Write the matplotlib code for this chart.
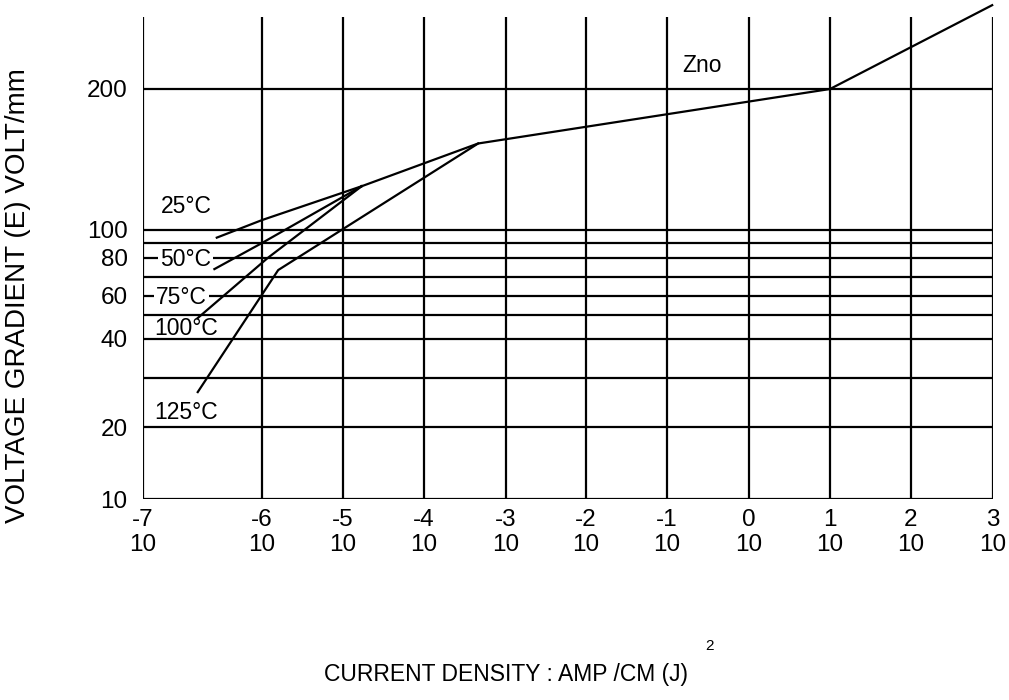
import numpy as np
import matplotlib.pyplot as plt

plt.rcParams['font.family'] = ['Liberation Sans', 'DejaVu Sans']

# grid
x_exponents = [-7, -6, -5, -4, -3, -2, -1, 0, 1, 2, 3]
y_gridvals = [10, 20, 30, 40, 50, 60, 70, 80, 90, 100, 200]
y_ticks = [10, 20, 40, 60, 80, 100, 200]
y_ticklabels = ["10", "20", "40", "60", "80", "100", "200"]

# curves: x = log10(J), y = E (V/mm)
zno_x = [-4.77, -3.34, 1.0, 2.99]
zno_y = [124, 153, 200, 302]
t25_x = [-6.38, -6.0, -4.77]
t25_y = [94, 105, 124]
t50_x = [-6.40, -6.0, -4.77]
t50_y = [74, 90, 124]
t100_x = [-6.54, -5.93, -4.77]
t100_y = [48.6, 80, 124]
t125_x = [-6.54, -5.80, -3.34]
t125_y = [26.7, 73.5, 153]

# the original grid is hand drawn with uneven spacing,
# so the scales go through these anchor positions (pixels)
x_anchor_pos = np.array([143, 262, 343, 424, 506, 586, 667, 749, 830, 911, 993], float)
y_anchor_vals = np.log10([10, 20, 30, 40, 50, 60, 70, 80, 90, 100, 200, 400])
y_anchor_pos = -np.array([499, 427, 378, 339, 315, 296, 277, 258, 243, 230, 89, -52], float)


def x_fwd(v):
    return np.interp(v, x_exponents, x_anchor_pos)


def x_inv(p):
    return np.interp(p, x_anchor_pos, x_exponents)


def y_fwd(v):
    v = np.clip(np.asarray(v, float), 1e-3, None)
    return np.interp(np.log10(v), y_anchor_vals, y_anchor_pos)


def y_inv(p):
    return 10 ** np.interp(p, y_anchor_pos, y_anchor_vals)


fig = plt.figure(figsize=(10.09, 7), dpi=100)
ax = fig.add_axes([143 / 1009, 201 / 700, 850 / 1009, 499 / 700])
ax.set_xscale('function', functions=(x_fwd, x_inv))
ax.set_yscale('function', functions=(y_fwd, y_inv))
ax.set_xlim(-7, 3)
ax.set_ylim(10, y_inv(0))

lw = 1.6
ax.vlines(x_exponents, 10, 285, color='black', lw=lw, zorder=1)
ax.hlines(y_gridvals, -7, 3, color='black', lw=lw, zorder=1)

for xs, ys in [(zno_x, zno_y), (t25_x, t25_y), (t50_x, t50_y),
               (t100_x, t100_y), (t125_x, t125_y)]:
    ax.plot(xs, ys, color='black', lw=lw, clip_on=False, zorder=3)

fs = 16.5
tfs = 17.5
box = dict(facecolor='white', edgecolor='none', pad=1.5)
ax.text(-6.64, 112, "25°C", fontsize=fs, ha='center', va='center')
ax.text(-6.64, 78.9, "50°C", fontsize=fs, ha='center', va='center', bbox=box, zorder=2)
ax.text(-6.68, 58.9, "75°C", fontsize=fs, ha='center', va='center', bbox=box, zorder=2)
ax.text(-6.64, 44.3, "100°C", fontsize=fs, ha='center', va='center', zorder=2)
ax.text(-6.64, 22.5, "125°C", fontsize=fs, ha='center', va='center')
ax.text(-0.57, 225, "Zno", fontsize=fs, ha='center', va='center')

ax.set_xticks(x_exponents)
ax.set_xticklabels([f"{e}\n10" for e in x_exponents], fontsize=tfs, linespacing=1.2)
ax.set_yticks(y_ticks)
ax.set_yticklabels(y_ticklabels, fontsize=tfs)
ax.minorticks_off()
ax.tick_params(axis='x', length=0, pad=7)
ax.tick_params(axis='y', length=0, pad=11)
for s in ax.spines.values():
    s.set_visible(False)

fig.text(506 / 1009, 1 - 675 / 700, "CURRENT DENSITY : AMP /CM (J)",
         fontsize=fs, ha='center', va='center')
fig.text(710 / 1009, 1 - 646 / 700, "2", fontsize=11, ha='center', va='center')
fig.text(18 / 1009, 1 - 296 / 700, "VOLTAGE GRADIENT (E) VOLT/mm",
         fontsize=20, rotation=90, ha='center', va='center')

fig.savefig("out.png", dpi=100)
